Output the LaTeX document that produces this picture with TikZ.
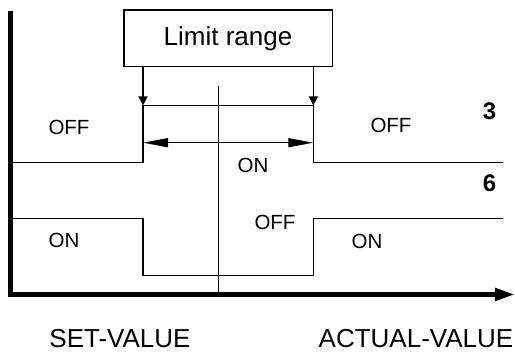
\documentclass[tikz,border=0pt]{standalone}
\usepackage{fontspec}
\setmainfont{Liberation Sans}
\usetikzlibrary{arrows.meta}
\begin{document}
\begin{tikzpicture}[x=1pt,y=-1pt,
  thin line/.style={line width=1.3pt},
  axisline/.style={line width=5pt},
  lbl/.style={anchor=base,inner sep=0pt,font=\fontsize{20.5}{24}\selectfont},
  biglbl/.style={anchor=base,inner sep=0pt,font=\fontsize{26}{30}\selectfont},
  numlbl/.style={anchor=base,inner sep=0pt,font=\fontsize{24}{28}\selectfont\bfseries},
  smalltip/.style={-{Triangle[length=9pt,width=9pt]}},
  longtip/.style={{Triangle[length=25pt,width=9pt]}-{Triangle[length=25pt,width=9pt]}}]
\useasboundingbox (0,0) rectangle (515,352);
% axes
\coordinate (ytop) at (10,10.7);
\coordinate (orig) at (10,294.5);
\coordinate (xend) at (515,294.5);
\draw[axisline,-{Triangle[length=20pt,width=12pt]}] (ytop) -- (orig) -- (xend);
% limit range box
\node[draw,thin line,minimum width=208.5pt,minimum height=56.7pt,inner sep=0pt] (box) at (228.3,38.3) {};
\node[biglbl] (boxtxt) at (228,46) {Limit range};
% key coordinates
\coordinate (L) at (143,105.5);
\coordinate (R) at (313.3,105.5);
\draw[thin line,smalltip] (L |- box.south) -- (L);
\draw[thin line,smalltip] (R |- box.south) -- (R);
% center line
\coordinate (ctop) at (218.5,86);
\draw[thin line] (ctop) -- (ctop |- orig);
% curve 3
\coordinate (a0) at (10,162.3);
\coordinate (a1) at (503,162.3);
\draw[thin line] (a0) -- (a0 -| L) -- (L) -- (R) -- (R |- a1) -- (a1);
% double arrow
\coordinate (dl) at (143,142.7);
\coordinate (dr) at (313.3,142.7);
\draw[thin line,longtip] (dl) -- (dr);
% curve 6
\coordinate (b0) at (10,218.5);
\coordinate (blow) at (143,275.8);
\coordinate (b1) at (503,218.8);
\draw[thin line] (b0) -- (b0 -| blow) -- (blow) -- (blow -| R) -- (R |- b1) -- (b1);
% labels
\node[lbl] (off1) at (69,135) {OFF};
\node[lbl] (off2) at (391,133) {OFF};
\node[numlbl] (n3) at (489.5,120) {3};
\node[lbl] (on1) at (253,172.7) {ON};
\node[numlbl] (n6) at (489.5,191.5) {6};
\node[lbl] (off3) at (275,230) {OFF};
\node[lbl] (on2) at (64,248) {ON};
\node[lbl] (on3) at (367,249) {ON};
\node[biglbl] (sv) at (120,348) {SET-VALUE};
\node[biglbl] (av) at (416,348) {ACTUAL-VALUE};
\end{tikzpicture}
\end{document}
